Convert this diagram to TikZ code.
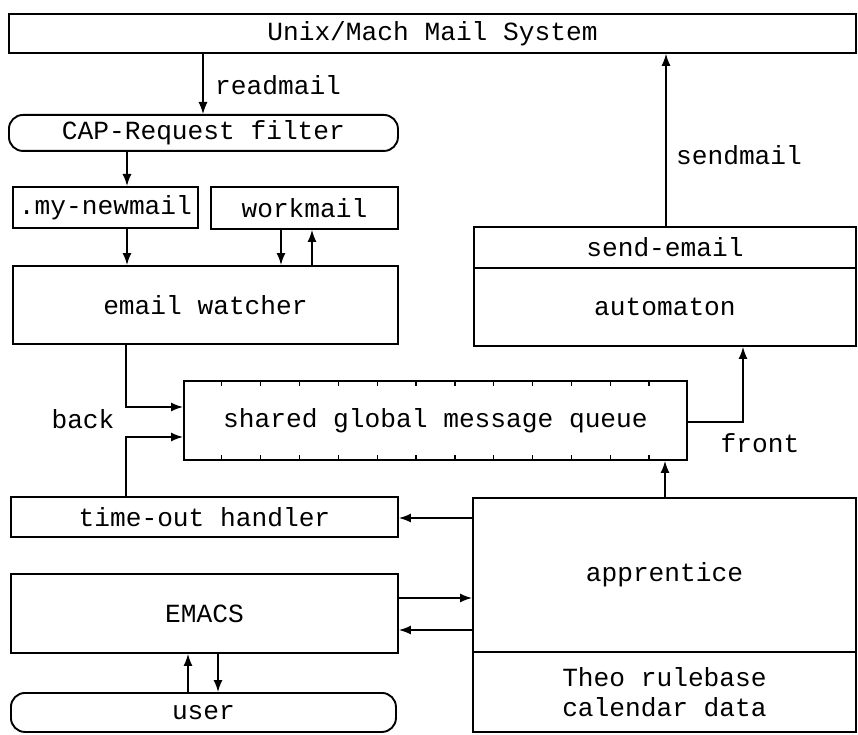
\documentclass[tikz,border=0pt]{standalone}
\usepackage{fontspec}
\setmonofont{Liberation Mono}
\usetikzlibrary{arrows.meta,calc}
\tikzset{
  box/.style={draw, line width=1.9pt, inner sep=0pt, font=\ttfamily\fontsize{26.2}{30.5}\selectfont, align=center},
  rbox/.style={box, rounded corners=14pt},
  lbl/.style={inner sep=0pt, font=\ttfamily\fontsize{26.2}{30.5}\selectfont},
  arr/.style={line width=1.5pt, -{Latex[length=12pt,width=9pt]}},
  thinarr/.style={line width=1.1pt, -{Latex[length=12pt,width=9pt]}},
  tick/.style={line width=1.3pt}
}
\begin{document}
\begin{tikzpicture}[x=1pt,y=-1pt]
\useasboundingbox (0,0) rectangle (858,735);
% boxes
\node[box, anchor=north west, minimum width=847, minimum height=39] (top) at (8,13) {Unix/Mach Mail System};
\node[rbox, anchor=north west, minimum width=389, minimum height=36] (cap) at (8,114) {CAP-Request filter};
\node[box, anchor=north west, minimum width=185, minimum height=41] (mynew) at (12,186) {.my-newmail};
\node[box, anchor=north west, minimum width=187, minimum height=42] (work) at (210,186) {workmail};
\node[box, anchor=north west, minimum width=385, minimum height=78] (watcher) at (12,265) {email watcher};
\node[box, anchor=north west, minimum width=503, minimum height=79] (queue) at (183,380) {shared global message queue};
\node[box, anchor=north west, minimum width=382, minimum height=41] (sendemail) at (473,226) {send-email};
\node[box, anchor=north west, minimum width=382, minimum height=78] (automaton) at (473,267) {automaton};
\node[box, anchor=north west, minimum width=387, minimum height=40] (timeout) at (10,496) {time-out handler};
\node[box, anchor=north west, minimum width=387, minimum height=79] (emacs) at (10,573) {EMACS};
\node[rbox, anchor=north west, minimum width=385, minimum height=39] (user) at (10,692) {user};
\node[box, anchor=north west, minimum width=383, minimum height=154] (appr) at (472,497) {apprentice};
\node[box, anchor=north west, minimum width=383, minimum height=80] (theo) at (472,651) {Theo rulebase\\calendar data};
% labels
\node[lbl, anchor=west] (readmail) at (215,85) {readmail};
\node[lbl] (sendmail) at (739,155) {sendmail};
\node[lbl] (back) at (83,419) {back};
\node[lbl] (front) at (760,443) {front};
% queue ticks
\foreach \k in {1,...,12}{
  \draw[tick] ($(queue.north west)!{\k/13}!(queue.north east)$) -- ++(0,6);
  \draw[tick] ($(queue.south west)!{\k/13}!(queue.south east)$) -- ++(0,-6);
}
% helper coordinates
\coordinate (xr) at (203,0);
\coordinate (xs) at (666,0);
\coordinate (xl) at (127,0);
\coordinate (xw1) at (281,0);
\coordinate (xw2) at (312,0);
\coordinate (xb) at (126,0);
\coordinate (yb1) at (0,407);
\coordinate (yb2) at (0,437);
\coordinate (yf) at (0,422);
\coordinate (xf) at (743,0);
\coordinate (xa) at (665,0);
\coordinate (yt) at (0,518);
\coordinate (ye1) at (0,598);
\coordinate (ye2) at (0,630);
\coordinate (xu1) at (188,0);
\coordinate (xu2) at (218,0);
% connectors
\draw[thinarr] (top.south -| xr) -- (cap.north -| xr);
\draw[thinarr] (sendemail.north -| xs) -- (top.south -| xs);
\draw[arr] (cap.south -| xl) -- (mynew.north -| xl);
\draw[arr] (mynew.south -| xl) -- (watcher.north -| xl);
\draw[arr] (work.south -| xw1) -- (watcher.north -| xw1);
\draw[arr] (watcher.north -| xw2) -- (work.south -| xw2);
\draw[arr] (watcher.south -| xb) |- (queue.west |- yb1);
\draw[arr] (timeout.north -| xb) |- (queue.west |- yb2);
\draw[arr] (queue.east |- yf) -| (automaton.south -| xf);
\draw[arr] (appr.north -| xa) -- (queue.south -| xa);
\draw[arr] (appr.west |- yt) -- (timeout.east |- yt);
\draw[arr] (emacs.east |- ye1) -- (appr.west |- ye1);
\draw[arr] (appr.west |- ye2) -- (emacs.east |- ye2);
\draw[arr] (user.north -| xu1) -- (emacs.south -| xu1);
\draw[arr] (emacs.south -| xu2) -- (user.north -| xu2);
\end{tikzpicture}
\end{document}
